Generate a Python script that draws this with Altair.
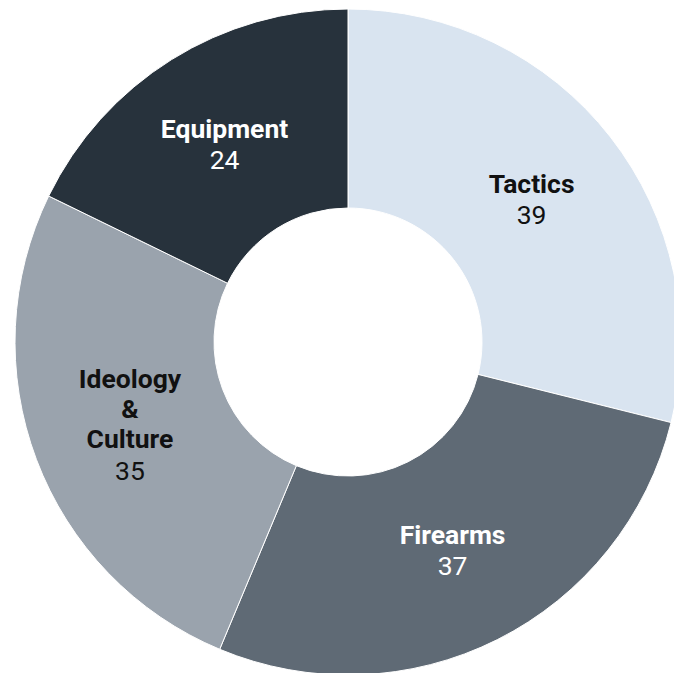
import altair as alt
import pandas as pd

NB = "\u00a0"

categories = ["Tactics", "Firearms", "Ideology & Culture", "Equipment"]
values = [39, 37, 35, 24]
name_lines = [[NB, "Tactics"], [NB, "Firearms"], ["Ideology", "&", "Culture"], [NB, "Equipment"]]
value_lines = [["39"], ["37"], [NB, "35"], ["24"]]
fill_colors = ["#d9e4f0", "#5f6a75", "#9aa3ad", "#27323c"]
text_colors = ["#111111", "#ffffff", "#111111", "#ffffff"]

df = pd.DataFrame({
    "category": categories,
    "value": values,
    "order": list(range(len(categories))),
    "names": name_lines,
    "vals": value_lines,
    "fill": fill_colors,
    "tcolor": text_colors,
})

CX, CY = 348, 342
FS = 26.5
LH = 30

base = alt.Chart(df).encode(
    theta=alt.Theta("value:Q", stack=True),
    order=alt.Order("order:Q"),
    x=alt.value(CX),
    y=alt.value(CY),
)

arcs = base.mark_arc(outerRadius=333, innerRadius=134, stroke="#ffffff", strokeWidth=1).encode(
    color=alt.Color("fill:N", scale=None),
)

names = base.mark_text(radius=233, font="Roboto", fontSize=FS, fontWeight="bold",
                       lineHeight=LH, baseline="middle", align="center", dy=-44).encode(
    text="names",
    color=alt.Color("tcolor:N", scale=None),
)

nums = base.mark_text(radius=233, font="Roboto", fontSize=FS, fontWeight="normal",
                      lineHeight=31, baseline="middle", align="center", dy=17).encode(
    text="vals",
    color=alt.Color("tcolor:N", scale=None),
)

chart = alt.layer(arcs, names, nums).properties(
    width=674, height=673,
    autosize=alt.AutoSizeParams(type="none"),
    padding=0,
).configure_view(stroke=None)

chart.save("out.html", embed_options={"renderer": "svg", "actions": False})
